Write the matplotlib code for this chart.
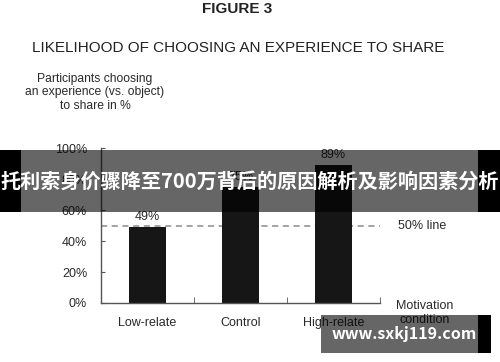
import matplotlib
matplotlib.use("Agg")
import matplotlib.pyplot as plt
from matplotlib.patches import Rectangle

categories = ["Low-relate", "Control", "High-relate"]
values = [49, 75, 89]
value_labels = ["49%", "75%", "89%"]
yticks = [0, 20, 40, 60, 80, 100]
ytick_labels = ["0%", "20%", "40%", "60%", "80%", "100%"]
ref_value = 50

plt.rcParams['font.family'] = ['Liberation Sans', 'DejaVu Sans']

fig = plt.figure(figsize=(5, 3.62), dpi=100)
fig.patch.set_facecolor("white")
ax = fig.add_axes([0.202, 0.163, 0.558, 0.428])

txt = "#2a2a2a"
xs = list(range(len(categories)))
ax.bar(xs, values, width=0.4, color="#161616", zorder=2)
for x, v, lab in zip(xs, values, value_labels):
    ax.text(x, v + 2.5, lab, ha="center", va="bottom", fontsize=9, color=txt)

ax.axhline(ref_value, color="#8a8a8a", lw=1.1, dashes=(4, 3), zorder=1)
ax.text(2.69, ref_value, "50% line", ha="left", va="center", fontsize=9,
        color=txt, clip_on=False)

ax.set_xlim(-0.5, 2.5)
ax.set_ylim(0, 100)
ax.set_yticks(yticks, ytick_labels)
ax.set_xticks(xs, categories)
ax.set_xticks([0.5, 1.5, 2.5], minor=True)
ax.tick_params(axis="x", which="major", length=0, pad=10, labelsize=9, labelcolor=txt)
ax.tick_params(axis="x", which="minor", direction="in", length=4, color="#555555")
ax.tick_params(axis="y", direction="in", length=3, color="#555555", pad=10,
               labelsize=9, labelcolor=txt)
for s in ["top", "right"]:
    ax.spines[s].set_visible(False)
for s in ["left", "bottom"]:
    ax.spines[s].set_color("#555555")
    ax.spines[s].set_linewidth(1.0)

fig.text(0.85, 0.135, "Motivation\ncondition", ha="center", va="center",
         fontsize=9, color=txt, linespacing=1.15)

fig.text(0.475, 0.975, "FIGURE 3", ha="center", va="center", fontsize=11,
         fontweight="bold", color="#222222")
fig.text(0.064, 0.867, "LIKELIHOOD OF CHOOSING AN EXPERIENCE TO SHARE",
         ha="left", va="center", fontsize=11, color="#222222")
fig.text(0.19, 0.745, "Participants choosing\nan experience (vs. object)\nto share in %",
         ha="center", va="center", fontsize=8.7, color=txt, linespacing=1.2)

# overlay banner
def frect(x0, y0, x1, y1, **kw):
    fig.add_artist(Rectangle((x0 / 500, 1 - y1 / 362), (x1 - x0) / 500, (y1 - y0) / 362,
                             transform=fig.transFigure, zorder=5, lw=0, **kw))

frect(0, 150, 21, 212, color="black")
frect(21, 150, 478, 212, color="black", alpha=0.6)
frect(478, 150, 500, 212, color="black")
fig.text(0.5, 1 - 181 / 362, "托利索身价骤降至700万背后的原因解析及影响因素分析",
         ha="center", va="center", fontsize=14.5, fontweight="bold", color="white",
         family=["Noto Sans CJK SC", "DejaVu Sans"], zorder=6)

frect(321, 315, 478, 353, color="black", alpha=0.6)
frect(478, 315, 491, 353, color="black")
fig.text(404.5 / 500, 1 - 334 / 362, "www.sxkj119.com", ha="center", va="center",
         fontsize=11.5, fontweight="bold", color="white",
         family=["Noto Sans CJK SC", "DejaVu Sans"], zorder=6)

fig.savefig("out.png", dpi=100)
